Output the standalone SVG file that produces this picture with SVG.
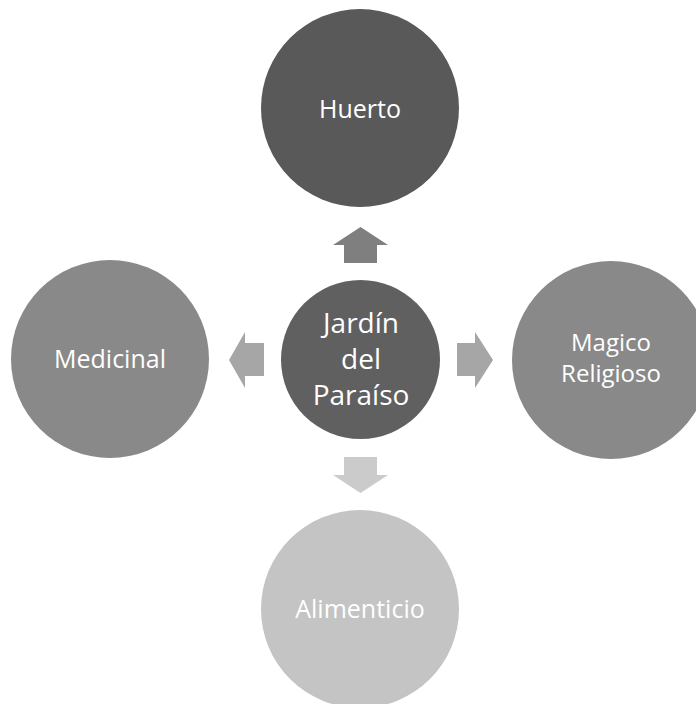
<svg xmlns="http://www.w3.org/2000/svg" width="696" height="704" viewBox="0 0 696 704">
<style>
.t{font-family:"Open Sans","Liberation Sans",sans-serif;font-size:25px;fill:#ffffff;text-anchor:middle}
.c{font-size:28px}
.m{font-size:24px}
</style>
<rect width="696" height="704" fill="#ffffff"/>
<g id="connectors">
<polygon points="360.5,227 388,245 377,245 377,263 344,263 344,245 333,245" fill="#7f7f7f"/>
<polygon points="360.5,493 388,475 377,475 377,457 344,457 344,475 333,475" fill="#cbcbcb"/>
<polygon points="229,360 245,332 245,343 264,343 264,376 245,376 245,388" fill="#a6a6a6"/>
<polygon points="493,360 475,332 475,343 457,343 457,376 475,376 475,388" fill="#a6a6a6"/>
</g>
<g id="huerto">
<circle cx="360" cy="108" r="99" fill="#595959"/>
<text class="t" x="360" y="118">Huerto</text>
</g>
<g id="magico">
<circle cx="611" cy="360" r="99" fill="#898989"/>
<text class="t m" x="611" y="351">Magico</text>
<text class="t m" x="611" y="382">Religioso</text>
</g>
<g id="medicinal">
<circle cx="110" cy="359" r="99" fill="#898989"/>
<text class="t" x="110" y="368">Medicinal</text>
</g>
<g id="alimenticio">
<circle cx="360" cy="609" r="99" fill="#c4c4c4"/>
<text class="t" x="360" y="618">Alimenticio</text>
</g>
<g id="centro">
<circle cx="360.5" cy="359.5" r="79.5" fill="#606060"/>
<text class="t c" x="361" y="333">Jardín</text>
<text class="t c" x="361" y="369">del</text>
<text class="t c" x="361" y="405">Paraíso</text>
</g>
</svg>
